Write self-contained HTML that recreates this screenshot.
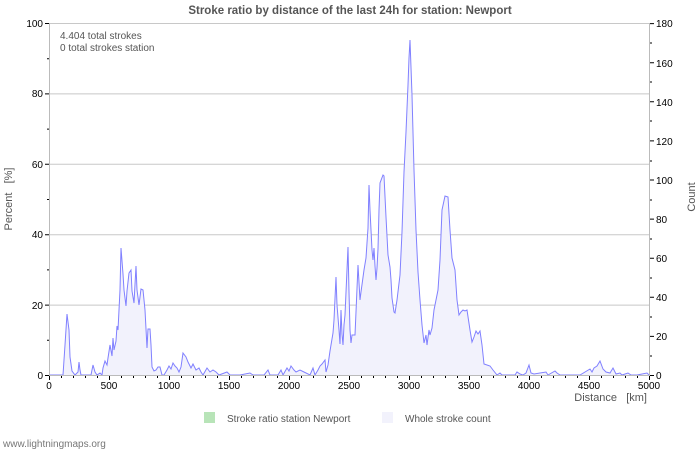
<!DOCTYPE html>
<html><head><style>
html,body{margin:0;padding:0;background:#fff;}
svg{display:block;font-family:"Liberation Sans","DejaVu Sans",sans-serif;}
</style></head><body>
<svg width="700" height="450" viewBox="0 0 700 450" xmlns="http://www.w3.org/2000/svg">
<rect width="700" height="450" fill="#fff"/>
<text x="350" y="14" text-anchor="middle" font-size="11.5" font-weight="bold" fill="#555">Stroke ratio by distance of the last 24h for station: Newport</text>
<g stroke="#c8c8c8" stroke-width="1">
<line x1="49" y1="23.5" x2="649" y2="23.5"/>
<line x1="49" y1="93.9" x2="649" y2="93.9"/>
<line x1="49" y1="164.3" x2="649" y2="164.3"/>
<line x1="49" y1="234.7" x2="649" y2="234.7"/>
<line x1="49" y1="305.1" x2="649" y2="305.1"/>
</g>
<polygon fill="#f2f2fc" stroke="none" points="49,375 63,375 65,345 67,314 69,330 70,357 72,371 75,375 78,372 79,362 80,370 81,375 91,375 93,365 95,372 97,375 100,373 102,375 103,368 105,361 107,365 108,358 110,345 112,356 113,338 114,350 116,341 117,326 118,330 119,310 120,290 121,248 123,274 124,290 126,306 127,291 129,273 131,270 132,291 134,303 136,266 137,290 139,305 141,289 143,290 145,310 147,348 148,329 150,329 151,345 152,367 154,371 156,370 158,367 160,367 162,375 164,375 167,370 169,366 171,369 173,363 175,366 177,368 179,372 181,367 183,353 186,357 188,362 191,368 193,364 196,370 199,368 201,372 203,375 207,368 210,372 213,370 216,372 219,375 227,372 230,375 240,375 250,373 253,375 264,375 268,370 270,375 278,375 281,370 283,375 287,368 289,371 291,366 294,370 296,372 300,370 304,372 310,375 313,368 315,375 318,370 320,366 322,364 325,360 326,372 328,365 330,351 333,333 334,320 336,277 337,305 339,330 340,344 341,310 342,334 343,345 344,325 345,315 348,247 349,292 350,330 351,343 352,335 355,335 356,312 358,265 360,300 361,292 364,270 366,258 368,228 369,185 370,210 372,250 373,260 374,248 375,266 376,280 377,268 378,249 379,210 380,183 383,175 384,176 386,217 388,255 390,267 391,280 392,298 394,312 395,313 397,300 400,275 402,232 404,172 406,132 408,85 409,58 410,40 412,95 414,170 416,230 418,272 420,300 422,325 424,343 426,335 427,345 429,330 430,335 432,328 434,310 436,300 438,290 440,260 442,210 445,196 448,197 450,230 452,258 455,270 457,300 459,315 461,312 463,310 465,311 467,310 470,330 472,342 474,337 476,331 478,334 480,331 482,345 484,364 487,365 490,366 493,370 497,375 500,373 502,375 515,375 517,372 520,374 523,375 526,373 529,365 531,373 534,374 546,372 548,375 555,371 557,373 560,375 565,375 580,375 590,369 592,372 594,368 597,366 600,361 603,369 606,372 610,373 613,368 616,374 620,373 622,375 628,373 631,375 637,375 647,373 649,375"/>
<polyline fill="none" stroke="#8080ff" stroke-width="1" points="49,375 63,375 65,345 67,314 69,330 70,357 72,371 75,375 78,372 79,362 80,370 81,375 91,375 93,365 95,372 97,375 100,373 102,375 103,368 105,361 107,365 108,358 110,345 112,356 113,338 114,350 116,341 117,326 118,330 119,310 120,290 121,248 123,274 124,290 126,306 127,291 129,273 131,270 132,291 134,303 136,266 137,290 139,305 141,289 143,290 145,310 147,348 148,329 150,329 151,345 152,367 154,371 156,370 158,367 160,367 162,375 164,375 167,370 169,366 171,369 173,363 175,366 177,368 179,372 181,367 183,353 186,357 188,362 191,368 193,364 196,370 199,368 201,372 203,375 207,368 210,372 213,370 216,372 219,375 227,372 230,375 240,375 250,373 253,375 264,375 268,370 270,375 278,375 281,370 283,375 287,368 289,371 291,366 294,370 296,372 300,370 304,372 310,375 313,368 315,375 318,370 320,366 322,364 325,360 326,372 328,365 330,351 333,333 334,320 336,277 337,305 339,330 340,344 341,310 342,334 343,345 344,325 345,315 348,247 349,292 350,330 351,343 352,335 355,335 356,312 358,265 360,300 361,292 364,270 366,258 368,228 369,185 370,210 372,250 373,260 374,248 375,266 376,280 377,268 378,249 379,210 380,183 383,175 384,176 386,217 388,255 390,267 391,280 392,298 394,312 395,313 397,300 400,275 402,232 404,172 406,132 408,85 409,58 410,40 412,95 414,170 416,230 418,272 420,300 422,325 424,343 426,335 427,345 429,330 430,335 432,328 434,310 436,300 438,290 440,260 442,210 445,196 448,197 450,230 452,258 455,270 457,300 459,315 461,312 463,310 465,311 467,310 470,330 472,342 474,337 476,331 478,334 480,331 482,345 484,364 487,365 490,366 493,370 497,375 500,373 502,375 515,375 517,372 520,374 523,375 526,373 529,365 531,373 534,374 546,372 548,375 555,371 557,373 560,375 565,375 580,375 590,369 592,372 594,368 597,366 600,361 603,369 606,372 610,373 613,368 616,374 620,373 622,375 628,373 631,375 637,375 647,373 649,375"/>
<g stroke="#bbb" stroke-width="1">
<line x1="49.5" y1="23" x2="49.5" y2="375"/>
<line x1="649.5" y1="23" x2="649.5" y2="375"/>
<line x1="49" y1="375.5" x2="650" y2="375.5"/>
</g>
<g stroke="#000" stroke-width="1">
<path d="M45 375.5h4M45 305.1h4M45 234.7h4M45 164.3h4M45 93.9h4M45 23.5h4"/>
<path d="M47 340.3h2M47 269.9h2M47 199.5h2M47 129.1h2M47 58.7h2"/>
<path d="M650 375.5h4M650 336.4h4M650 297.3h4M650 258.2h4M650 219.1h4M650 180h4M650 140.9h4M650 101.8h4M650 62.7h4M650 23.6h4"/>
<path d="M650 356h2M650 317h2M650 278h2M650 239h2M650 200h2M650 161h2M650 121h2M650 82h2M650 43h2"/>
<path d="M49.5 376v4M109.5 376v4M169.5 376v4M229.5 376v4M289.5 376v4M349.5 376v4M409.5 376v4M469.5 376v4M529.5 376v4M589.5 376v4M649.5 376v4"/>
<path d="M61.5 376v2M73.5 376v2M85.5 376v2M97.5 376v2M121.5 376v2M133.5 376v2M145.5 376v2M157.5 376v2M181.5 376v2M193.5 376v2M205.5 376v2M217.5 376v2M241.5 376v2M253.5 376v2M265.5 376v2M277.5 376v2M301.5 376v2M313.5 376v2M325.5 376v2M337.5 376v2M361.5 376v2M373.5 376v2M385.5 376v2M397.5 376v2M421.5 376v2M433.5 376v2M445.5 376v2M457.5 376v2M481.5 376v2M493.5 376v2M505.5 376v2M517.5 376v2M541.5 376v2M553.5 376v2M565.5 376v2M577.5 376v2M601.5 376v2M613.5 376v2M625.5 376v2M637.5 376v2"/>
</g>
<g font-size="10" fill="#000" text-anchor="end">
<text x="43" y="379">0</text><text x="43" y="309">20</text><text x="43" y="238">40</text><text x="43" y="168">60</text><text x="43" y="97">80</text><text x="43" y="27">100</text>
</g>
<g font-size="10" fill="#000" text-anchor="start">
<text x="656" y="379">0</text><text x="656" y="340">20</text><text x="656" y="301">40</text><text x="656" y="262">60</text><text x="656" y="223">80</text><text x="656" y="184">100</text><text x="656" y="145">120</text><text x="656" y="106">140</text><text x="656" y="67">160</text><text x="656" y="27">180</text>
</g>
<g font-size="10" fill="#000" text-anchor="middle">
<text x="49" y="389">0</text><text x="109" y="389">500</text><text x="169" y="389">1000</text><text x="229" y="389">1500</text><text x="289" y="389">2000</text><text x="349" y="389">2500</text><text x="409" y="389">3000</text><text x="469" y="389">3500</text><text x="529" y="389">4000</text><text x="589" y="389">4500</text><text x="649" y="389">5000</text>
</g>
<text x="647" y="401" font-size="11" fill="#555" text-anchor="end">Distance&#160;&#160;&#160;[km]</text>
<text transform="translate(12,199) rotate(-90)" font-size="11" fill="#555" text-anchor="middle">Percent&#160;&#160;&#160;[%]</text>
<text transform="translate(695,197) rotate(-90)" font-size="11" fill="#555" text-anchor="middle">Count</text>
<text x="60" y="39" font-size="10" fill="#555">4.404 total strokes</text>
<text x="60" y="51" font-size="10" fill="#555">0 total strokes station</text>
<rect x="204" y="412" width="11" height="11" fill="#b8e4b8"/>
<text x="227" y="422" font-size="10" fill="#555">Stroke ratio station Newport</text>
<rect x="382" y="412" width="11" height="11" fill="#f2f2fc"/>
<text x="405" y="422" font-size="10" fill="#555">Whole stroke count</text>
<text x="3" y="447" font-size="10" fill="#777">www.lightningmaps.org</text>
</svg>
</body></html>
